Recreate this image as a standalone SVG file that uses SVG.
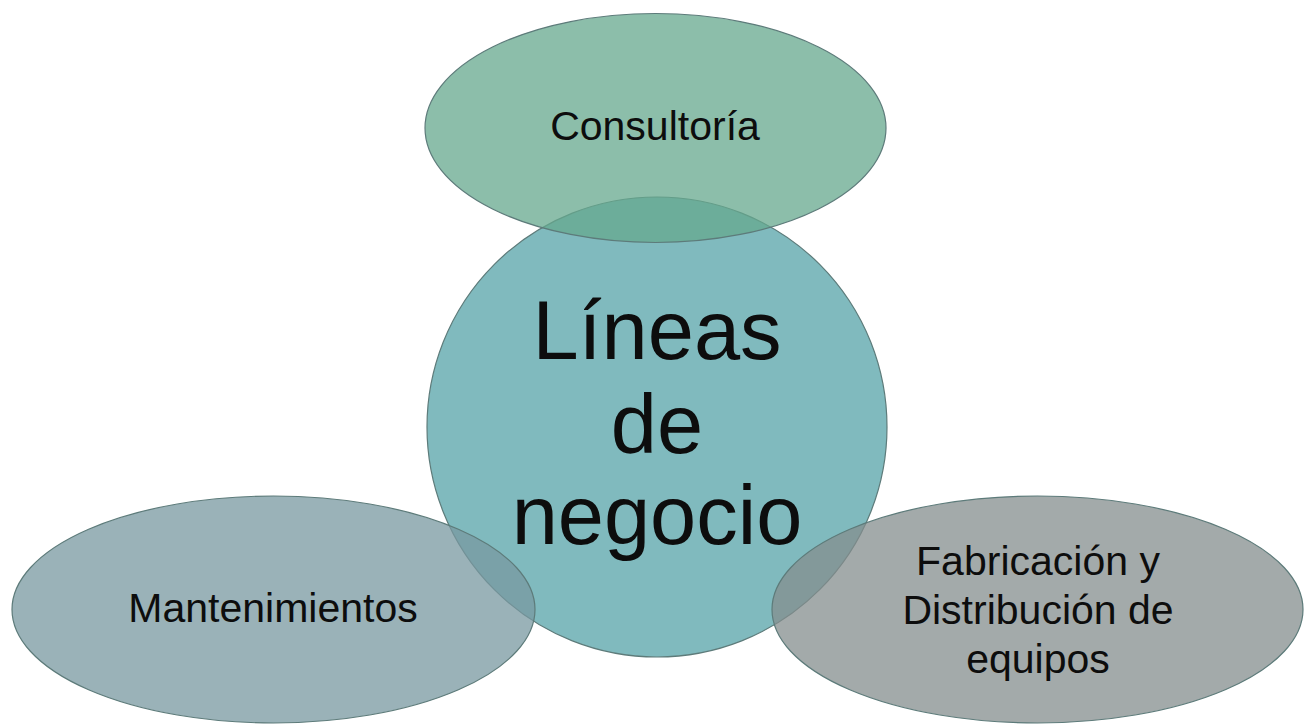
<svg xmlns="http://www.w3.org/2000/svg" width="1311" height="726" viewBox="0 0 1311 726">
  <style>
    .shape { stroke: #5d7b7a; stroke-width: 1.2; fill-opacity: 0.75; }
    .lbl { font-family: "Liberation Sans", Arial, sans-serif; fill: #0d0d0d; text-anchor: middle; }
    .big { font-size: 83px; }
    .small { font-size: 41px; }
  </style>
  <rect width="1311" height="726" fill="#ffffff"/>
  <g id="node-center">
    <circle class="shape" cx="657" cy="427" r="230" fill="#56a3a8"/>
  </g>
  <g id="node-consultoria">
    <ellipse class="shape" cx="655.5" cy="128" rx="230.5" ry="114.5" fill="#66a88e"/>
  </g>
  <g id="node-mantenimientos">
    <ellipse class="shape" cx="273.5" cy="609.5" rx="261.5" ry="113.5" fill="#7898a0"/>
  </g>
  <g id="node-fabricacion">
    <ellipse class="shape" cx="1037.5" cy="609.5" rx="265.5" ry="113.5" fill="#848e8e"/>
  </g>
  <g id="connectors"></g>
  <g id="labels">
    <text class="lbl big" x="657" y="359">Líneas</text>
    <text class="lbl big" x="657" y="453">de</text>
    <text class="lbl big" x="657" y="544">negocio</text>
    <text class="lbl small" x="655" y="140">Consultoría</text>
    <text class="lbl small" x="273" y="622">Mantenimientos</text>
    <text class="lbl small" x="1038" y="575">Fabricación y</text>
    <text class="lbl small" x="1038" y="624">Distribución de</text>
    <text class="lbl small" x="1038" y="673">equipos</text>
  </g>
</svg>
